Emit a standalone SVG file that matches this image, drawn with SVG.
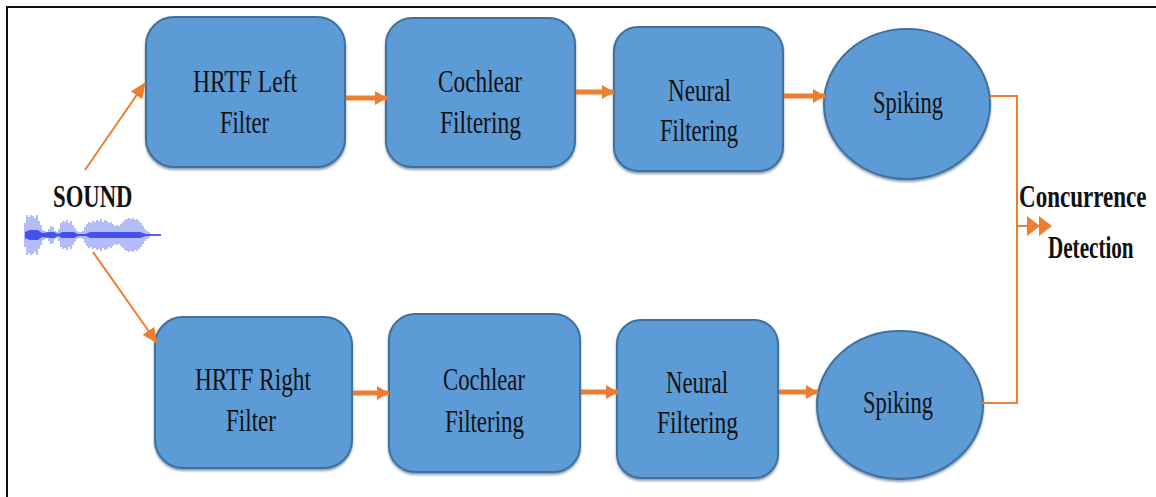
<svg xmlns="http://www.w3.org/2000/svg" width="1156" height="497" viewBox="0 0 1156 497">
  <style>
    .box { fill: #5B9BD5; stroke: #41719C; stroke-width: 2; filter: url(#shade); }
    text { font-family: "Liberation Serif", "Times New Roman", serif; fill: #111; }
    .lbl { font-size: 31px; }
    .bold { font-weight: bold; font-size: 32px; }
    .thick { stroke: #ED7D31; stroke-width: 5; fill: none; marker-end: url(#headThick); }
    .thin { stroke: #ED7D31; stroke-width: 2; fill: none; }
    .wave { stroke: #3F52F0; stroke-width: 1.3; opacity: 0.6; fill: none; }
  </style>
  <defs>
    <filter id="shade" x="-10%" y="-10%" width="120%" height="125%">
      <feDropShadow dx="0" dy="2" stdDeviation="1" flood-color="#2E4F73" flood-opacity="0.55"/>
    </filter>
    <marker id="headThick" markerUnits="userSpaceOnUse" markerWidth="12" markerHeight="14" refX="12" refY="7" orient="auto">
      <path d="M0,0 L12,7 L0,14 Z" fill="#ED7D31"/>
    </marker>
    <marker id="headThin" markerUnits="userSpaceOnUse" markerWidth="16" markerHeight="14" refX="15" refY="7" orient="auto">
      <path d="M0,0 L16,7 L0,14 Z" fill="#ED7D31"/>
    </marker>
  </defs>

  <rect width="1156" height="497" fill="#fff"/>
  <!-- frame -->
  <path d="M7 497 V7 H1156" fill="none" stroke="#111" stroke-width="2"/>

  <!-- sound source -->
  <g id="sound">
    <text class="bold" transform="translate(53,207) scale(0.71,1)">SOUND</text>
    <path class="wave" d="M25 223V247M27 215V255M29 217V253M31 215V255M33 216V254M35 218V252M37 215V255M39 221V249M41 225V245M43 230V240M45 231V239M47 232V238M49 229V241M51 226V244M53 227V243M55 231V239M57 232V238M59 229V241M61 223V247M63 221V249M65 222V248M67 220V250M69 223V247M71 221V249M73 225V245M75 228V242M77 231V239M79 232V238M81 232V238M83 231V239M85 227V243M87 224V246M89 222V248M91 223V247M93 221V249M95 222V248M97 220V250M99 221V249M101 219V251M103 222V248M105 220V250M107 221V249M109 223V247M111 222V248M113 224V246M115 226V244M117 225V245M119 226V244M121 224V246M123 222V248M125 220V250M127 219V251M129 218V252M131 219V251M133 218V252M135 220V250M137 219V251M139 221V249M141 223V247M143 226V244M145 229V241M147 231V239M149 232V238"/>
    <path d="M25 232 L30 230 L38 230 L42 233 L50 232 L54 232 L58 234 L62 232 L74 232 L78 234 L86 234 L90 232 L140 232 L146 234 L161 234 L161 236 L146 236 L140 238 L90 238 L86 236 L78 236 L74 238 L62 238 L58 236 L54 238 L50 238 L42 237 L38 240 L30 240 L25 238 Z" fill="#1F2FE6" opacity="0.75"/>
  </g>

  <!-- left channel -->
  <g id="hrtf-left">
    <rect class="box" x="146" y="17" width="199" height="150" rx="28"/>
    <text class="lbl" x="193" y="92" textLength="104" lengthAdjust="spacingAndGlyphs">HRTF Left</text>
    <text class="lbl" x="220" y="133" textLength="49" lengthAdjust="spacingAndGlyphs">Filter</text>
  </g>
  <g id="cochlear-left">
    <rect class="box" x="386" y="18" width="189" height="149" rx="26"/>
    <text class="lbl" x="438" y="92" textLength="84" lengthAdjust="spacingAndGlyphs">Cochlear</text>
    <text class="lbl" x="440" y="133" textLength="81" lengthAdjust="spacingAndGlyphs">Filtering</text>
  </g>
  <g id="neural-left">
    <rect class="box" x="614" y="27" width="169" height="144" rx="24"/>
    <text class="lbl" x="668" y="101" textLength="63" lengthAdjust="spacingAndGlyphs">Neural</text>
    <text class="lbl" x="660" y="141" textLength="78" lengthAdjust="spacingAndGlyphs">Filtering</text>
  </g>
  <g id="spiking-left">
    <ellipse class="box" cx="907" cy="104" rx="83" ry="75"/>
    <text class="lbl" x="873" y="113" textLength="70" lengthAdjust="spacingAndGlyphs">Spiking</text>
  </g>

  <!-- right channel -->
  <g id="hrtf-right">
    <rect class="box" x="155" y="317" width="197" height="151" rx="28"/>
    <text class="lbl" x="195" y="390" textLength="116" lengthAdjust="spacingAndGlyphs">HRTF Right</text>
    <text class="lbl" x="226" y="431" textLength="50" lengthAdjust="spacingAndGlyphs">Filter</text>
  </g>
  <g id="cochlear-right">
    <rect class="box" x="389" y="314" width="191" height="158" rx="26"/>
    <text class="lbl" x="443" y="390" textLength="82" lengthAdjust="spacingAndGlyphs">Cochlear</text>
    <text class="lbl" x="445" y="432" textLength="79" lengthAdjust="spacingAndGlyphs">Filtering</text>
  </g>
  <g id="neural-right">
    <rect class="box" x="617" y="320" width="161" height="158" rx="24"/>
    <text class="lbl" x="666" y="393" textLength="62" lengthAdjust="spacingAndGlyphs">Neural</text>
    <text class="lbl" x="657" y="433" textLength="81" lengthAdjust="spacingAndGlyphs">Filtering</text>
  </g>
  <g id="spiking-right">
    <ellipse class="box" cx="900" cy="405" rx="83" ry="74"/>
    <text class="lbl" x="863" y="413" textLength="70" lengthAdjust="spacingAndGlyphs">Spiking</text>
  </g>

  <!-- output -->
  <g id="concurrence">
    <text class="bold" transform="translate(1019,207) scale(0.72,1)">Concurrence</text>
    <text class="bold" transform="translate(1048,258) scale(0.66,1)">Detection</text>
  </g>

  <!-- connectors -->
  <g id="connectors">
    <line class="thin" x1="85" y1="170" x2="145" y2="83" marker-end="url(#headThin)"/>
    <line class="thin" x1="93" y1="252" x2="157" y2="343" marker-end="url(#headThin)"/>

    <line class="thick" x1="346" y1="98" x2="387" y2="98"/>
    <line class="thick" x1="576" y1="92" x2="614" y2="92"/>
    <line class="thick" x1="784" y1="96" x2="825" y2="96"/>

    <line class="thick" x1="353" y1="393" x2="389" y2="393"/>
    <line class="thick" x1="581" y1="392" x2="618" y2="392"/>
    <line class="thick" x1="779" y1="392" x2="818" y2="392"/>

    <path class="thin" d="M990 96 H1017 V403 H982"/>
    <path class="thin" d="M1017 226 H1028"/>
    <path d="M1027 216 L1040 226 L1027 236 Z M1039 216 L1052 226 L1039 236 Z" fill="#ED7D31"/>
  </g>
</svg>
